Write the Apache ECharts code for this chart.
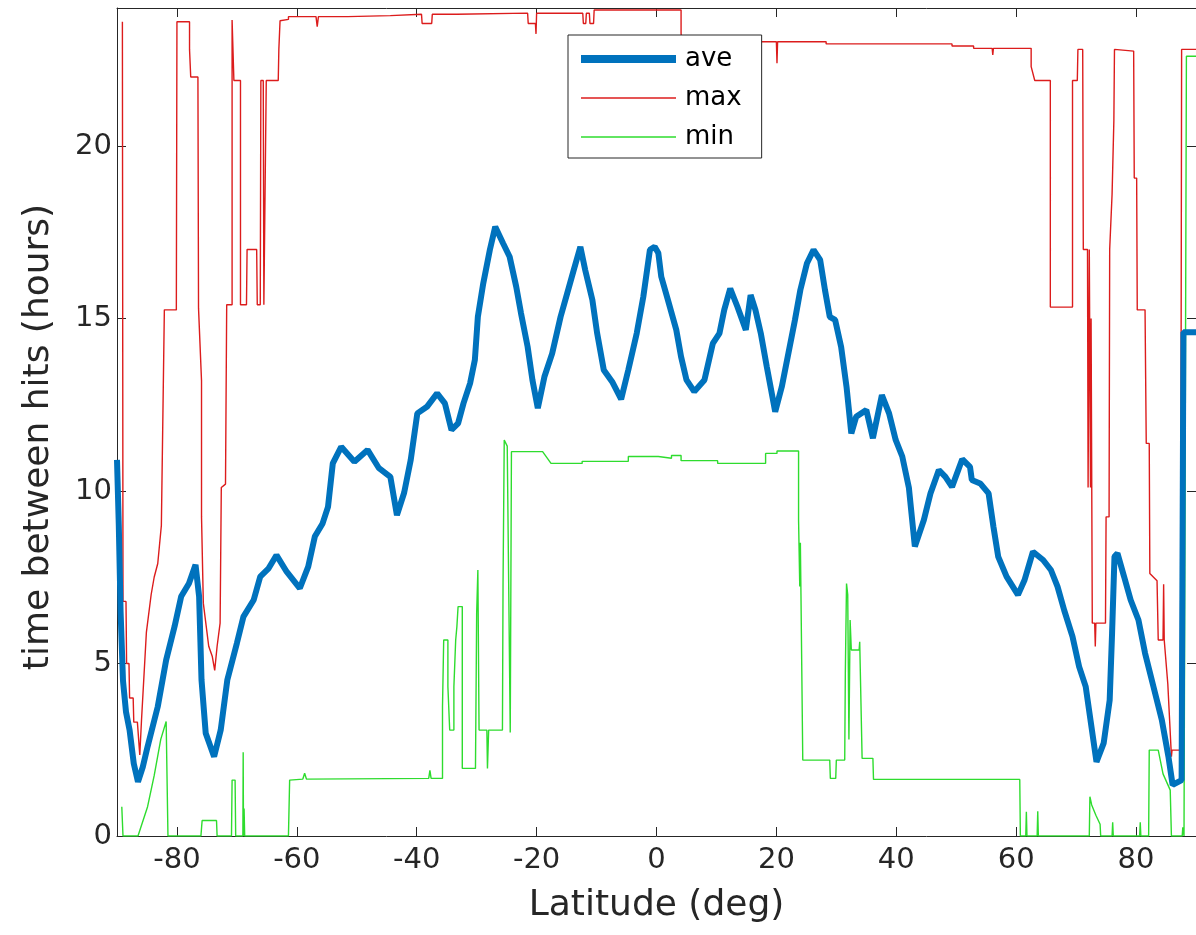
<!DOCTYPE html>
<html>
<head>
<meta charset="utf-8">
<script src="https://cdn.jsdelivr.net/npm/echarts@6/dist/echarts.min.js"></script>
<style>
html,body{margin:0;padding:0;background:#fff;}
#chart{width:1196px;height:935px;}
</style>
</head>
<body>
<div id="chart"></div>
<script>
// ---- data ----
const xTicks = [-80, -60, -40, -20, 0, 20, 40, 60, 80];
const yTicks = [0, 5, 10, 15, 20];
const seriesNames = ['ave', 'max', 'min'];

const ave = [
[-90,10.9],[-89.7,9.0],[-89.4,6.5],[-89.0,4.5],[-88.5,3.6],[-87.9,3.07],[-87.2,2.1],[-86.5,1.57],[-85.7,2.0],[-84.9,2.59],
[-83.2,3.75],[-81.8,5.1],[-80.4,6.07],[-79.3,6.94],[-78.0,7.32],[-76.9,7.86],[-76.3,6.94],[-75.9,4.52],[-75.2,2.98],[-73.8,2.30],
[-72.7,3.07],[-71.6,4.52],[-70.0,5.59],[-68.9,6.36],[-67.2,6.84],[-66.1,7.52],[-64.7,7.76],[-63.4,8.14],[-61.7,7.66],[-59.5,7.18],
[-58.1,7.81],[-57.0,8.68],[-55.7,9.06],[-54.8,9.54],[-54.0,10.8],[-52.6,11.28],[-50.4,10.85],[-48.2,11.19],[-46.3,10.66],[-44.4,10.41],
[-43.3,9.30],[-42.1,9.95],[-41.0,10.9],[-39.9,12.25],[-38.3,12.44],[-36.6,12.83],[-35.3,12.54],[-34.2,11.77],[-33.1,11.96],[-32.2,12.54],
[-31.1,13.12],[-30.3,13.80],[-29.8,15.05],[-28.9,16.02],[-27.8,16.99],[-26.9,17.66],[-25.6,17.18],[-24.5,16.79],[-23.4,15.92],[-22.6,15.15],
[-21.5,14.18],[-20.7,13.22],[-19.8,12.40],[-18.7,13.31],[-17.4,13.99],[-16.0,15.05],[-14.9,15.73],[-13.8,16.41],[-12.7,17.08],[-11.9,16.41],
[-10.7,15.54],[-9.9,14.57],[-8.8,13.51],[-7.4,13.17],[-5.9,12.66],[-4.7,13.51],[-3.3,14.57],[-2.2,15.63],[-1.1,16.99],[-0.3,17.08],
[0.3,16.9],[0.8,16.21],[1.9,15.54],[3.3,14.67],[4.1,13.89],[5.0,13.22],[6.3,12.88],[8.0,13.22],[9.4,14.28],[10.5,14.57],
[11.3,15.25],[12.3,15.87],[13.5,15.34],[14.9,14.67],[15.7,15.68],[16.5,15.25],[17.4,14.57],[18.4,13.60],[19.8,12.30],[20.9,13.02],
[22.0,13.99],[23.1,14.96],[24.0,15.83],[25.1,16.60],[26.2,16.99],[27.3,16.70],[28.1,15.83],[28.9,15.05],[29.8,14.96],[30.8,14.18],
[31.7,13.02],[32.5,11.67],[33.3,12.15],[35.0,12.35],[36.1,11.53],[37.6,12.78],[38.8,12.25],[39.9,11.48],[41.0,11.0],[42.1,10.1],
[43.1,8.39],[44.6,9.16],[45.7,9.93],[47.1,10.61],[48.2,10.41],[49.3,10.12],[51.0,10.92],[52.3,10.70],[52.6,10.32],[54.0,10.22],
[55.4,9.93],[56.2,8.97],[57.0,8.10],[58.4,7.52],[60.3,6.99],[61.4,7.42],[62.8,8.24],[64.5,8.0],[65.8,7.71],[66.9,7.23],
[68.0,6.55],[69.4,5.78],[70.5,4.91],[71.6,4.33],[72.4,3.36],[73.4,2.15],[74.6,2.69],[75.6,3.94],[76.0,5.88],[76.4,8.10],
[76.9,8.19],[78.0,7.52],[79.1,6.84],[80.4,6.26],[81.5,5.30],[82.9,4.33],[84.3,3.36],[85.4,2.30],[86.1,1.48],[87.6,1.62],
[87.9,14.6],[90,14.6]
];

const maxv = [
[-89.1,23.6],[-89.0,6.8],[-88.5,6.8],[-88.4,5.0],[-88.0,5.0],[-87.9,4.0],[-87.3,4.0],[-87.2,3.3],[-86.6,3.3],[-86.2,2.35],
[-85.9,3.4],[-85.6,3.4],[-85.1,5.9],[-84.8,5.9],[-84.3,7.0],[-83.8,7.5],[-83.2,7.9],[-82.6,9.0],[-82.1,15.25],[-80.1,15.25],
[-80.0,23.6],[-77.9,23.6],[-77.9,22.8],[-77.7,22.0],[-76.5,22.0],[-76.4,15.3],[-75.9,13.2],[-75.9,9.25],[-75.6,6.75],[-74.7,5.5],
[-74.1,5.2],[-73.7,4.8],[-73.3,5.5],[-72.8,6.17],[-72.6,10.1],[-71.9,10.2],[-71.7,15.4],[-70.8,15.4],[-70.8,23.65],[-70.5,23.65],
[-70.5,21.9],[-69.4,21.9],[-69.4,15.4],[-68.4,15.4],[-68.3,17.0],[-66.7,17.0],[-66.6,15.4],[-66.1,15.4],[-66.0,21.9],[-65.6,21.9],
[-65.5,15.4],[-65.2,15.4],[-65.1,21.9],[-63.1,21.9],[-63.0,22.8],[-62.8,23.63],[-61.4,23.67],[-61.4,23.75],[-56.8,23.75],[-56.6,23.46],
[-56.4,23.75],[-51.5,23.75],[-51.5,23.78],[-44.4,23.78],[-44.4,23.82],[-39.2,23.82],[-39.1,23.55],[-37.5,23.55],[-37.4,23.82],[-33.3,23.82],
[-33.3,23.85],[-21.5,23.85],[-21.4,23.55],[-20.2,23.55],[-20.1,23.25],[-20.0,23.85],[-12.3,23.85],[-12.2,23.55],[-11.8,23.55],[-11.7,23.85],
[-11.2,23.85],[-11.1,23.55],[-10.5,23.55],[-10.4,23.94],[4.1,23.94],[4.1,23.26],[4.2,23.09],[17.4,23.09],[17.4,23.02],[20.0,23.02],
[20.1,22.4],[20.2,23.02],[28.3,23.02],[28.3,22.96],[49.3,22.96],[49.3,22.9],[52.9,22.9],[52.9,22.83],[56.0,22.83],[56.1,22.64],
[56.2,22.83],[62.5,22.83],[62.5,22.3],[63.1,21.9],[65.7,21.9],[65.7,15.33],[69.4,15.33],[69.4,21.9],[70.2,21.9],[70.3,22.8],
[71.1,22.8],[71.2,17.0],[71.9,17.0],[72.0,10.1],[72.2,17.0],[72.4,10.1],[72.5,15.0],[72.7,6.17],[73.1,6.17],[73.2,5.49],
[73.3,6.17],[74.9,6.17],[75.0,9.25],[75.5,9.25],[75.6,17.0],[75.9,17.0],[76.0,18.6],[76.2,18.6],[76.3,20.75],[76.4,22.8],
[79.6,22.75],[79.7,19.07],[80.1,19.07],[80.2,15.25],[81.5,15.25],[81.6,13.3],[81.7,11.38],[82.2,11.38],[82.3,7.61],[83.5,7.4],
[83.7,5.68],[84.5,5.68],[84.6,7.3],[84.7,5.68],[85.3,4.4],[85.9,2.3],[86.0,2.49],[87.4,2.49],[87.6,22.8],[90,22.8]
];

const minv = [
[-89.2,0.85],[-89.0,0],[-86.5,0],[-84.9,0.85],[-83.8,1.75],[-82.7,2.8],[-81.8,3.32],[-81.5,0],[-76.0,0],[-75.8,0.45],
[-73.4,0.45],[-73.3,0],[-70.9,0],[-70.8,1.62],[-70.3,1.62],[-70.2,0],[-69.0,0],[-68.95,2.43],[-68.9,0],[-68.8,0.8],
[-68.7,0],[-61.4,0],[-61.2,1.62],[-59.0,1.65],[-58.7,1.82],[-58.4,1.65],[-38.0,1.67],[-37.8,1.9],[-37.6,1.67],[-35.7,1.67],
[-35.7,3.75],[-35.5,5.68],[-34.8,5.68],[-34.8,4.33],[-34.5,3.07],[-33.8,3.07],[-33.8,4.33],[-33.5,5.68],[-33.3,6.07],[-33.1,6.65],
[-32.4,6.65],[-32.4,1.96],[-30.2,1.96],[-30.0,6.46],[-29.8,7.71],[-29.6,3.07],[-28.3,3.07],[-28.2,1.96],[-28.0,3.07],[-25.7,3.07],
[-25.6,7.32],[-25.4,11.48],[-24.9,11.3],[-24.4,3.0],[-24.2,11.14],[-19.0,11.14],[-17.6,10.8],[-12.4,10.8],[-12.4,10.86],[-4.7,10.86],
[-4.7,11.0],[0.3,11.0],[0.3,10.95],[2.5,10.95],[2.5,11.03],[4.1,11.03],[4.1,10.88],[10.2,10.88],[10.2,10.8],[18.2,10.8],
[18.2,11.09],[20.1,11.09],[20.1,11.16],[23.7,11.16],[23.7,9.16],[23.9,7.23],[24.0,8.5],[24.1,7.0],[24.4,2.2],[28.9,2.2],
[29.0,1.67],[29.9,1.67],[30.0,2.2],[31.4,2.2],[31.5,4.72],[31.7,7.32],[31.9,7.0],[32.1,2.8],[32.3,6.26],[32.5,5.39],
[33.8,5.39],[33.9,5.63],[34.2,5.63],[34.3,2.25],[36.1,2.25],[36.2,1.64],[60.6,1.64],[60.7,0],[61.6,0],[61.7,0.7],
[61.8,0],[63.5,0],[63.6,0.72],[63.7,0],[72.2,0],[72.3,1.14],[72.6,0.9],[73.3,0.6],[74.0,0.34],[74.1,0],
[76.0,0],[76.1,0.4],[76.2,0],[80.6,0],[80.7,0.4],[80.8,0],[82.1,0],[82.2,2.49],[83.7,2.49],[84.5,1.8],
[85.7,1.33],[85.9,0],[87.7,0],[87.8,0.25],[88.0,0],[88.3,0],[88.4,22.6],[90,22.6]
];

// ---- chart ----
const FONT = 'DejaVu Sans';
const AX = '#262626';
const C_AVE = '#0072BD', C_MAX = '#dc1c1c', C_MIN = '#2edc2e';
const chart = echarts.init(document.getElementById('chart'), null, {renderer: 'canvas'});

const baseX = {
  type: 'value', min: -90, max: 90,
  axisLine: {show: true, onZero: false, lineStyle: {color: AX, width: 1}},
  splitLine: {show: false},
  axisTick: {show: true, inside: true, length: 9, lineStyle: {color: AX}, customValues: xTicks},
  axisLabel: {show: true, customValues: xTicks, fontFamily: FONT, fontSize: 29, color: AX, margin: 10,
    formatter: v => String(v)}
};
const baseY = {
  type: 'value', min: 0, max: 24,
  axisLine: {show: true, onZero: false, lineStyle: {color: AX, width: 1}},
  splitLine: {show: false},
  axisTick: {show: true, inside: true, length: 9, lineStyle: {color: AX}, customValues: yTicks},
  axisLabel: {show: true, customValues: yTicks, fontFamily: FONT, fontSize: 29, color: AX, margin: 5}
};

const option = {
  animation: false,
  backgroundColor: '#ffffff',
  grid: {left: 117, top: 8, width: 1089, height: 828, containLabel: false},
  xAxis: [
    Object.assign({}, baseX, {position: 'bottom', name: 'Latitude (deg)', nameLocation: 'middle', nameGap: 52,
      nameTextStyle: {fontFamily: FONT, fontSize: 36, color: AX}}),
    Object.assign({}, baseX, {position: 'top', axisLabel: {show: false}})
  ],
  yAxis: [
    Object.assign({}, baseY, {position: 'left', name: 'time between hits (hours)', nameLocation: 'middle', nameGap: 60,
      nameTextStyle: {fontFamily: FONT, fontSize: 36, color: AX, padding: [0, 30, 0, 0]}}),
    Object.assign({}, baseY, {position: 'right', axisLabel: {show: false}})
  ],
  legend: {
    data: [
      {name: seriesNames[0], lineStyle: {width: 8, color: C_AVE}},
      {name: seriesNames[1], lineStyle: {width: 1.4, color: C_MAX}},
      {name: seriesNames[2], lineStyle: {width: 1.4, color: C_MIN}}
    ],
    left: 568, top: 35, orient: 'vertical',
    itemWidth: 95, itemHeight: 26, itemGap: 13,
    padding: [11, 20, 8, 9],
    borderColor: AX, borderWidth: 1, backgroundColor: '#ffffff',
    itemStyle: {opacity: 0},
    textStyle: {fontFamily: FONT, fontSize: 26, color: '#000', padding: [0, 0, 0, 4]}
  },
  series: [
    {name: seriesNames[0], type: 'line', data: ave, symbol: 'none', z: 3,
      lineStyle: {color: C_AVE, width: 6}, itemStyle: {color: C_AVE}},
    {name: seriesNames[1], type: 'line', data: maxv, symbol: 'none', z: 2,
      lineStyle: {color: C_MAX, width: 1.4}, itemStyle: {color: C_MAX}},
    {name: seriesNames[2], type: 'line', data: minv, symbol: 'none', z: 2,
      lineStyle: {color: C_MIN, width: 1.4}, itemStyle: {color: C_MIN}}
  ]
};
chart.setOption(option);
</script>
</body>
</html>
